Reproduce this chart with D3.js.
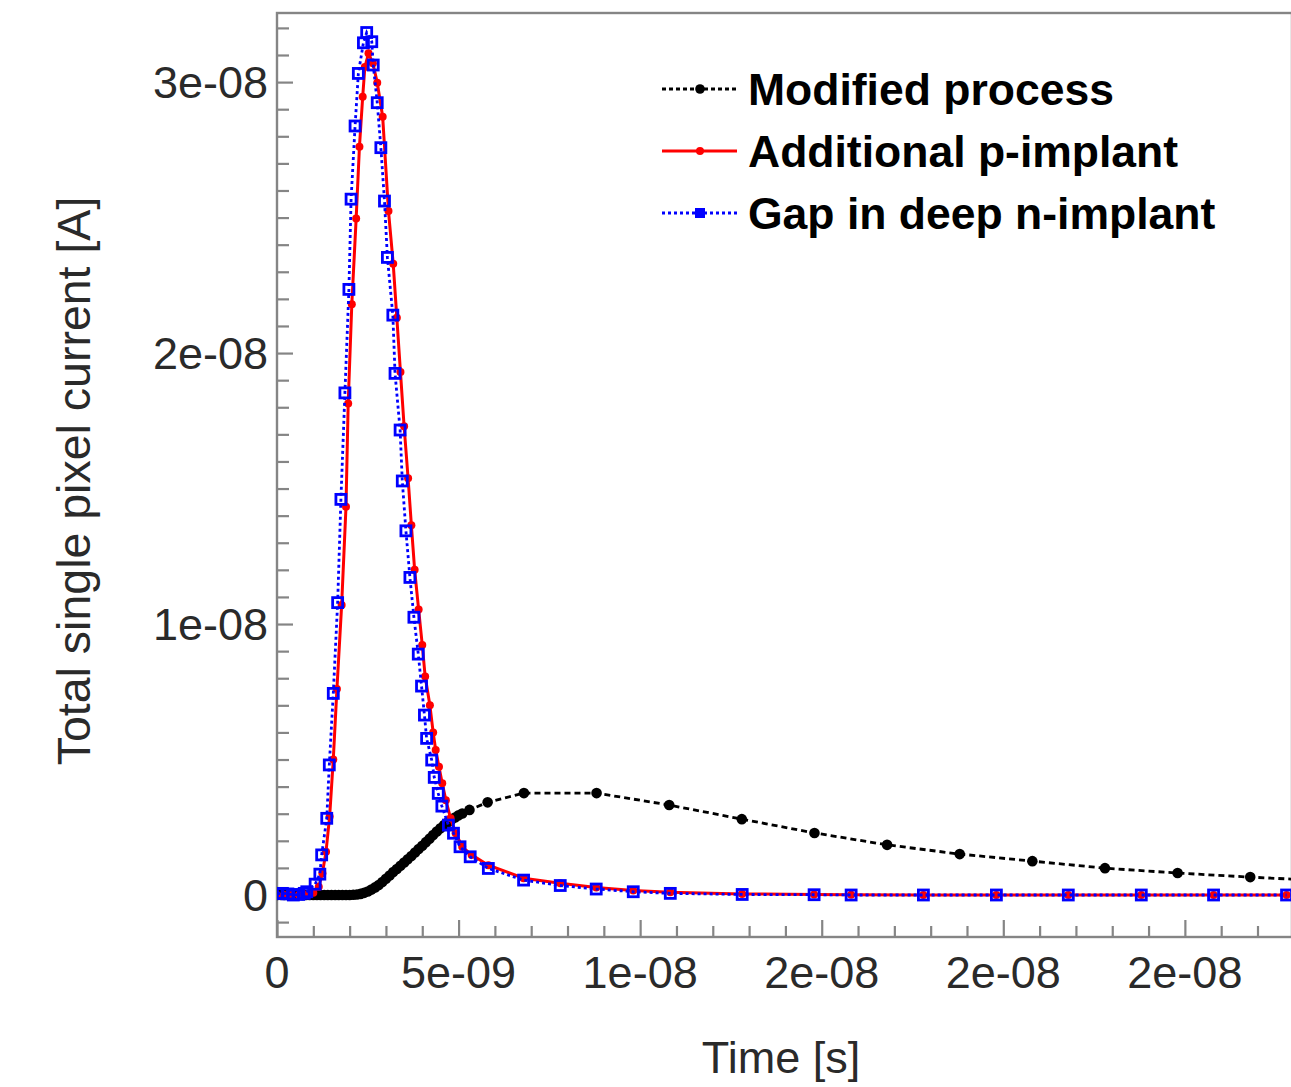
<!DOCTYPE html>
<html>
<head>
<meta charset="utf-8">
<script src="https://cdn.jsdelivr.net/npm/d3@7"></script>
<style>
  html, body { margin: 0; padding: 0; background: #fff; }
  svg { display: block; }
  text { font-family: "Liberation Sans", Arial, Helvetica, sans-serif; }
</style>
</head>
<body>
<svg id="chart" width="1291" height="1087"></svg>
<script>
// ---- Data (time in ns, current in nA) ----
const seriesNames = ["Modified process", "Additional p-implant", "Gap in deep n-implant"];

const modTime = [0,0.1,0.2,0.3,0.4,0.5,0.6,0.7,0.8,0.9,1.0,1.1,1.2,1.3,1.4,1.5,1.6,1.7,1.8,1.9,2.0,2.1,2.2,2.3,2.4,2.5,2.6,2.7,2.8,2.9,3.0,3.1,3.2,3.3,3.4,3.5,3.6,3.7,3.8,3.9,4.0,4.1,4.2,4.3,4.4,4.5,4.6,4.7,4.8,4.9,5.0,5.1,5.3,5.8,6.8,8.8,10.8,12.8,14.8,16.8,18.8,20.8,22.8,24.8,26.8,28.8];
const modCurrent = [0,0,0,0,0,0,0,0,0,0,0,0,0,0,0,0,0,0,0,0,0,0.01,0.02,0.04,0.08,0.13,0.2,0.28,0.37,0.48,0.6,0.72,0.85,0.96,1.08,1.2,1.32,1.44,1.57,1.7,1.82,1.95,2.08,2.21,2.34,2.46,2.58,2.68,2.78,2.86,2.94,3.01,3.14,3.42,3.76,3.76,3.32,2.80,2.29,1.85,1.51,1.25,0.99,0.81,0.66,0.53];

const pTime = [0,0.2,0.4,0.6,0.8,1.0,1.15,1.25,1.35,1.45,1.55,1.65,1.78,1.9,1.96,2.06,2.18,2.27,2.36,2.42,2.52,2.64,2.76,2.91,3.07,3.2,3.3,3.4,3.5,3.61,3.7,3.79,3.9,4.0,4.08,4.21,4.3,4.37,4.46,4.55,4.65,4.78,4.92,5.1,5.36,5.82,6.79,7.8,8.79,9.81,10.83,12.81,14.79,15.81,17.8,19.81,21.79,23.8,25.79,27.8];
const pCurrent = [0,0,0,0,0.02,0.08,0.3,0.8,1.6,2.9,5.0,7.6,10.7,14.33,18.14,21.8,24.97,27.61,29.46,30.56,31.06,30.7,29.98,28.72,25.24,23.3,21.3,19.3,17.3,15.38,13.65,12.0,10.54,9.23,8.06,7.0,6.0,5.35,4.73,4.12,3.5,2.83,2.28,1.78,1.48,1.1,0.62,0.43,0.28,0.17,0.1,0.04,0.02,0.01,0,0,0,0,0,0];

const gTime = [0,0.15,0.3,0.45,0.6,0.75,0.82,1.05,1.18,1.23,1.37,1.44,1.55,1.67,1.76,1.87,1.98,2.04,2.15,2.24,2.38,2.47,2.61,2.65,2.76,2.86,2.96,3.04,3.19,3.25,3.39,3.45,3.55,3.66,3.77,3.89,3.98,4.06,4.12,4.26,4.33,4.44,4.54,4.72,4.86,5.04,5.32,5.82,6.79,7.8,8.79,9.81,10.83,12.81,14.79,15.81,17.8,19.81,21.79,23.8,25.79,27.8];
const gCurrent = [0.05,0.06,0.04,0.0,0.02,0.06,0.12,0.4,0.77,1.48,2.83,4.8,7.44,10.79,14.6,18.53,22.35,25.68,28.38,30.32,31.45,31.83,31.49,30.63,29.24,27.58,25.61,23.53,21.4,19.25,17.16,15.28,13.44,11.72,10.25,8.89,7.71,6.64,5.78,4.98,4.34,3.75,3.28,2.58,2.28,1.78,1.41,0.98,0.55,0.35,0.22,0.12,0.06,0.02,0.01,0,0,0,0,0,0,0];

const xTickValues = [0,5,10,15,20,25];
const xTickLabels = ["0","5e-09","1e-08","2e-08","2e-08","2e-08"];
const yTickValues = [0,10,20,30];
const yTickLabels = ["0","1e-08","2e-08","3e-08"];
const xLabel = "Time [s]";
const yLabel = "Total single pixel current [A]";

// ---- Layout ----
const plot = { left: 277, top: 13, right: 1292, bottom: 937 };
const x = d3.scaleLinear().domain([0, 27.95]).range([plot.left, plot.right]);
const y = d3.scaleLinear().domain([-1.55, 32.55]).range([plot.bottom, plot.top]);

const svg = d3.select("#chart");
const axisColor = "#858585";
const textColor = "#2a2a2a";

svg.append("defs").append("clipPath").attr("id", "clip")
  .append("rect").attr("x", plot.left).attr("y", plot.top)
  .attr("width", plot.right - plot.left).attr("height", plot.bottom - plot.top);

// Frame
svg.append("rect")
  .attr("x", plot.left).attr("y", plot.top)
  .attr("width", plot.right - plot.left).attr("height", plot.bottom - plot.top)
  .attr("fill", "none").attr("stroke", axisColor).attr("stroke-width", 2.4);

// Inward ticks via d3 axes
const xMinor = d3.range(0, 28, 1);
const yMinor = d3.range(-1, 33, 1);

const xAxisG = svg.append("g").attr("transform", `translate(0,${plot.bottom})`)
  .call(d3.axisTop(x).tickValues(xMinor).tickSize(11).tickFormat(""));
xAxisG.selectAll("line").attr("stroke", axisColor).attr("stroke-width", 2.2)
  .attr("y2", d => (d % 5 === 0 ? -17 : -11));
xAxisG.select(".domain").remove();

const yAxisG = svg.append("g").attr("transform", `translate(${plot.left},0)`)
  .call(d3.axisRight(y).tickValues(yMinor).tickSize(12).tickFormat(""));
yAxisG.selectAll("line").attr("stroke", axisColor).attr("stroke-width", 2.2)
  .attr("x2", d => (d % 10 === 0 ? 16 : 12));
yAxisG.select(".domain").remove();

// Tick labels
svg.append("g").selectAll("text").data(xTickValues).join("text")
  .attr("x", d => x(d)).attr("y", 972).attr("dy", "0.35em")
  .attr("text-anchor", "middle").attr("font-size", 45).attr("fill", textColor)
  .text((d, i) => xTickLabels[i]);

svg.append("g").selectAll("text").data(yTickValues).join("text")
  .attr("x", 268).attr("y", d => y(d)).attr("dy", "0.35em")
  .attr("text-anchor", "end").attr("font-size", 45).attr("fill", textColor)
  .text((d, i) => yTickLabels[i]);

// Axis titles
svg.append("text").attr("x", 781).attr("y", 1073)
  .attr("text-anchor", "middle").attr("font-size", 45).attr("fill", textColor)
  .text(xLabel);
svg.append("text").attr("transform", "translate(90,481) rotate(-90)")
  .attr("text-anchor", "middle").attr("font-size", 46.5).attr("fill", textColor)
  .text(yLabel);

// ---- Series ----
const line = d3.line().x(d => x(d.t)).y(d => y(d.v));
const zip = (ts, vs) => ts.map((t, i) => ({ t, v: vs[i] }));
const dataG = svg.append("g").attr("clip-path", "url(#clip)");

const mod = zip(modTime, modCurrent);
const pimp = zip(pTime, pCurrent);
const gap = zip(gTime, gCurrent);

// Modified process (black, dashed, filled circles)
dataG.append("path").datum(mod).attr("d", line)
  .attr("fill", "none").attr("stroke", "#000").attr("stroke-width", 2.8)
  .attr("stroke-dasharray", "6,4");
dataG.append("g").selectAll("circle").data(mod).join("circle")
  .attr("cx", d => x(d.t)).attr("cy", d => y(d.v)).attr("r", 5.3).attr("fill", "#000");

// Additional p-implant (red, solid, small dots)
dataG.append("path").datum(pimp).attr("d", line)
  .attr("fill", "none").attr("stroke", "#ff0000").attr("stroke-width", 3);
dataG.append("g").selectAll("circle").data(pimp).join("circle")
  .attr("cx", d => x(d.t)).attr("cy", d => y(d.v)).attr("r", 4).attr("fill", "#ff0000");

// Gap in deep n-implant (blue, dotted, open squares)
dataG.append("path").datum(gap).attr("d", line)
  .attr("fill", "none").attr("stroke", "#0000ff").attr("stroke-width", 2.8)
  .attr("stroke-dasharray", "3,3");
dataG.append("g").selectAll("rect").data(gap).join("rect")
  .attr("x", d => x(d.t) - 5).attr("y", d => y(d.v) - 5)
  .attr("width", 10).attr("height", 10)
  .attr("fill", "none").attr("stroke", "#0000ff").attr("stroke-width", 2.8);

// ---- Legend ----
const legendRows = [
  { name: seriesNames[0], color: "#000", dash: "4,3", marker: "circle" },
  { name: seriesNames[1], color: "#ff0000", dash: null, marker: "circle" },
  { name: seriesNames[2], color: "#0000ff", dash: "3,3", marker: "square" }
];
const legendG = svg.append("g");
legendRows.forEach((r, i) => {
  const cy = 89 + i * 62;
  legendG.append("line").attr("x1", 662).attr("x2", 737).attr("y1", cy).attr("y2", cy)
    .attr("stroke", r.color).attr("stroke-width", 2.8)
    .attr("stroke-dasharray", r.dash);
  if (r.marker === "circle") {
    legendG.append("circle").attr("cx", 700).attr("cy", cy).attr("r", i === 0 ? 4.8 : 4).attr("fill", r.color);
  } else {
    legendG.append("rect").attr("x", 696).attr("y", cy - 4).attr("width", 8).attr("height", 8)
      .attr("fill", r.color).attr("stroke", r.color).attr("stroke-width", 2);
  }
  legendG.append("text").attr("x", 748).attr("y", cy).attr("dy", "0.35em")
    .attr("font-size", 44.5).attr("font-weight", "bold").attr("fill", "#000")
    .text(r.name);
});
</script>
</body>
</html>
